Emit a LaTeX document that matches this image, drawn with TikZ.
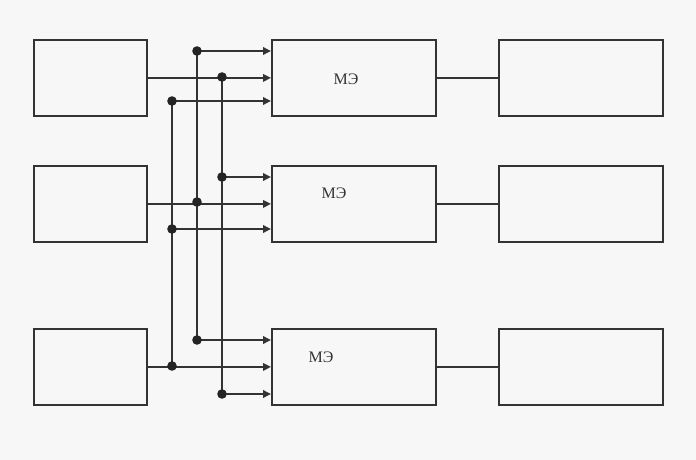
\documentclass[tikz,border=0pt]{standalone}
\usepackage{fontspec}
\setmainfont{Liberation Serif}
\usetikzlibrary{arrows.meta}
\definecolor{bg}{HTML}{F7F7F7}
\definecolor{ink}{HTML}{333333}
\begin{document}
\begin{tikzpicture}[x=1pt,y=-1pt,
  blk/.style={draw=ink, line width=1.8pt, fill=bg, inner sep=0pt, anchor=north west, minimum height=76pt},
  lbox/.style={blk, minimum width=113pt},
  wbox/.style={blk, minimum width=164pt},
  wire/.style={draw=ink, line width=1.8pt},
  arr/.style={wire, -{Triangle[length=8pt,width=7.5pt]}},
  dotc/.style={fill=ink!70!black, draw=none},
  lab/.style={font=\fontsize{16}{18}\selectfont, text=ink, inner sep=0pt}]
\useasboundingbox (0,0) rectangle (696,460);
\fill[bg] (0,0) rectangle (696,460);
% boxes
\node[lbox] (l1) at (33,39) {};
\node[lbox] (l2) at (33,165) {};
\node[lbox] (l3) at (33,328) {};
\node[wbox] (m1) at (271,39) {};
\node[wbox] (m2) at (271,165) {};
\node[wbox] (m3) at (271,328) {};
\node[wbox] (r1) at (498,39) {};
\node[wbox] (r2) at (498,165) {};
\node[wbox] (r3) at (498,328) {};
% labels
\node[lab] (t1) at (346,79) {МЭ};
\node[lab] (t2) at (334,193) {МЭ};
\node[lab] (t3) at (321,357) {МЭ};
% junction points
\coordinate (a1) at (197,51);
\coordinate (b1) at (222,77);
\coordinate (c1) at (172,101);
\coordinate (b2) at (222,177);
\coordinate (a2) at (197,202);
\coordinate (c2) at (172,229);
\coordinate (a3) at (197,340);
\coordinate (c3) at (172,366);
\coordinate (b3) at (222,394);
% verticals
\draw[wire] (c1) -- (c3);
\draw[wire] (a1) -- (a3);
\draw[wire] (b1) -- (b3);
% main inputs
\draw[arr] (l1.east) -- (m1.west);
\draw[arr] (l2.east) -- (m2.west);
\draw[arr] (l3.east) -- (m3.west);
% branch inputs
\draw[arr] (a1) -- (a1 -| m1.west);
\draw[arr] (c1) -- (c1 -| m1.west);
\draw[arr] (b2) -- (b2 -| m2.west);
\draw[arr] (c2) -- (c2 -| m2.west);
\draw[arr] (a3) -- (a3 -| m3.west);
\draw[arr] (b3) -- (b3 -| m3.west);
% outputs
\draw[wire] (m1.east) -- (r1.west);
\draw[wire] (m2.east) -- (r2.west);
\draw[wire] (m3.east) -- (r3.west);
% dots
\foreach \p in {a1,b1,c1,a2,b2,c2,a3,b3,c3}
  \fill[dotc] (\p) circle (4.8pt);
\end{tikzpicture}
\end{document}
